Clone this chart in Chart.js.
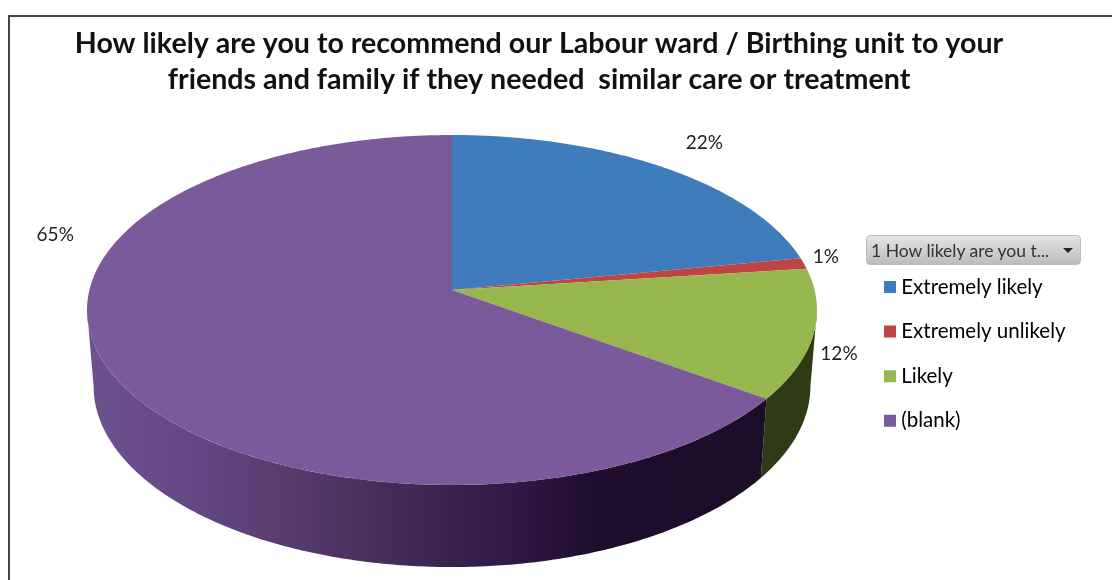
<!DOCTYPE html>
<html><head><meta charset="utf-8">
<style>
html,body{margin:0;padding:0;background:#fff;overflow:hidden}
#wrap{position:relative;width:1112px;height:580px}
canvas{position:absolute;left:0;top:0}
#frame{position:absolute;left:8px;top:15px;width:1104px;height:565px;border-left:2px solid #444;border-top:2px solid #444;box-sizing:border-box}
#btn{position:absolute;left:866px;top:235px;width:215px;height:30px;box-sizing:border-box;border:1px solid #bdbdbd;border-radius:4px;background:linear-gradient(#e4e4e4,#bcbcbc);font:17.5px Lato,sans-serif;color:#333;line-height:29px;padding-left:4px;white-space:nowrap}
#btn i{position:absolute;right:7px;top:12px;width:0;height:0;border-left:5px solid transparent;border-right:5px solid transparent;border-top:5px solid #222}
</style></head><body>
<div id="wrap">
<div id="frame"></div>
<canvas id="c" width="1112" height="580"></canvas>
<div id="btn">1 How likely are you t...<i></i></div>
</div>
<script src="https://cdn.jsdelivr.net/npm/chart.js@4"></script>
<script>
const titleLines = ["How likely are you to recommend our Labour ward / Birthing unit to your",
                    "friends and family if they needed  similar care or treatment"];
const categories = ["Extremely likely", "Extremely unlikely", "Likely", "(blank)"];
const percentages = [22, 1, 12, 65];
const sliceColors = ["#3f7cbb", "#bf4545", "#97b64d", "#7a5a9b"];

// 3D projection of the pie (style, not data)
const VIEW = {cx:452, cy:290, rx:362.6, ry:172.7, k:0.1143, botCy:365.4, botRy:178.6, botScale:0.982};
const labelOffsets = [[40,-25],[22,-6.5],[25.5,20],[-56,-138]];

function topPt(t){const u=Math.sin(t),v=-Math.cos(t),d=1-VIEW.k*v;
  return [VIEW.cx+VIEW.rx*u/d, VIEW.cy+VIEW.ry*v/d];}
function botPt(t){const u=Math.sin(t),v=-Math.cos(t),d=1-VIEW.k*v;
  return [VIEW.cx+VIEW.botScale*VIEW.rx*u/d, VIEW.botCy+VIEW.botRy*v/d];}
const sweep=(a,b)=>{const n=Math.max(2,Math.ceil((b-a)/0.01)),o=[];for(let i=0;i<=n;i++)o.push(a+(b-a)*i/n);return o;};
const theta=el=>[el.startAngle+Math.PI/2, el.endAngle+Math.PI/2];

const pie3d = {
  id:'pie3d',
  afterLayout(chart){
    chart.titleBlock.right -= 34;
    const l=chart.legend, w=l.width;
    l.left=864.9; l.right=864.9+w; l.top=252.65; l.bottom=580;
  },
  beforeDatasetDraw(chart,args){
    const ctx=chart.ctx, arcs=args.meta.data;
    const lo=Math.acos(-VIEW.k), hi=2*Math.PI-lo;
    ctx.save();
    const grad=ctx.createLinearGradient(88,0,817,0);
    const stops=[[88,'#6e5290'],[200,'#634682'],[300,'#553a6b'],[400,'#412b58'],[470,'#361f4c'],[530,'#2d1545'],[595,'#1e0e2b'],[817,'#1b0c28']];
    stops.forEach(s=>grad.addColorStop((s[0]-88)/729,s[1]));
    const wallFill=[null,null,'#2f3b15',grad];
    arcs.forEach((el,i)=>{
      const [a0,b0]=theta(el), a=Math.max(a0,lo), b=Math.min(b0,hi);
      if(b<=a||!wallFill[i])return;
      ctx.beginPath();
      sweep(a,b).forEach((t,j)=>{const p=topPt(t);j?ctx.lineTo(p[0],p[1]):ctx.moveTo(p[0],p[1]);});
      sweep(a,b).reverse().forEach(t=>{const p=botPt(t);ctx.lineTo(p[0],p[1]);});
      ctx.closePath();ctx.fillStyle=wallFill[i];ctx.fill();
    });
    arcs.forEach(el=>{
      const [a,b]=theta(el);
      ctx.beginPath();ctx.moveTo(VIEW.cx,VIEW.cy);
      sweep(a,b).forEach(t=>{const p=topPt(t);ctx.lineTo(p[0],p[1]);});
      ctx.closePath();ctx.fillStyle=el.options.backgroundColor;ctx.fill();
    });
    ctx.font='19px Lato';ctx.fillStyle='#222';ctx.textAlign='center';ctx.textBaseline='middle';
    arcs.forEach((el,i)=>{
      const [a,b]=theta(el),p=topPt((a+b)/2);
      ctx.fillText(percentages[i]+'%',p[0]+labelOffsets[i][0],p[1]+labelOffsets[i][1]);
    });
    ctx.restore();
    return false;
  }
};

new Chart(document.getElementById('c'),{
  type:'pie',
  data:{labels:categories,datasets:[{data:percentages,backgroundColor:sliceColors,borderWidth:0}]},
  plugins:[pie3d],
  options:{
    responsive:false,animation:false,
    layout:{padding:0},
    plugins:{
      tooltip:{enabled:false},
      title:{display:true,text:titleLines,color:'#111',align:'center',
        font:{family:'Lato',size:28.6,weight:'bold',lineHeight:1.26},padding:{top:26,bottom:0}},
      legend:{display:true,position:'right',align:'start',
        labels:{font:{family:'Lato',size:20.5},color:'#222',padding:24.1,boxWidth:2,boxHeight:2,
          generateLabels:()=>categories.map((c,i)=>({text:c,fillStyle:sliceColors[i],strokeStyle:sliceColors[i],lineWidth:10,index:i,hidden:false}))}}
    }
  }
});
</script>
</body></html>
